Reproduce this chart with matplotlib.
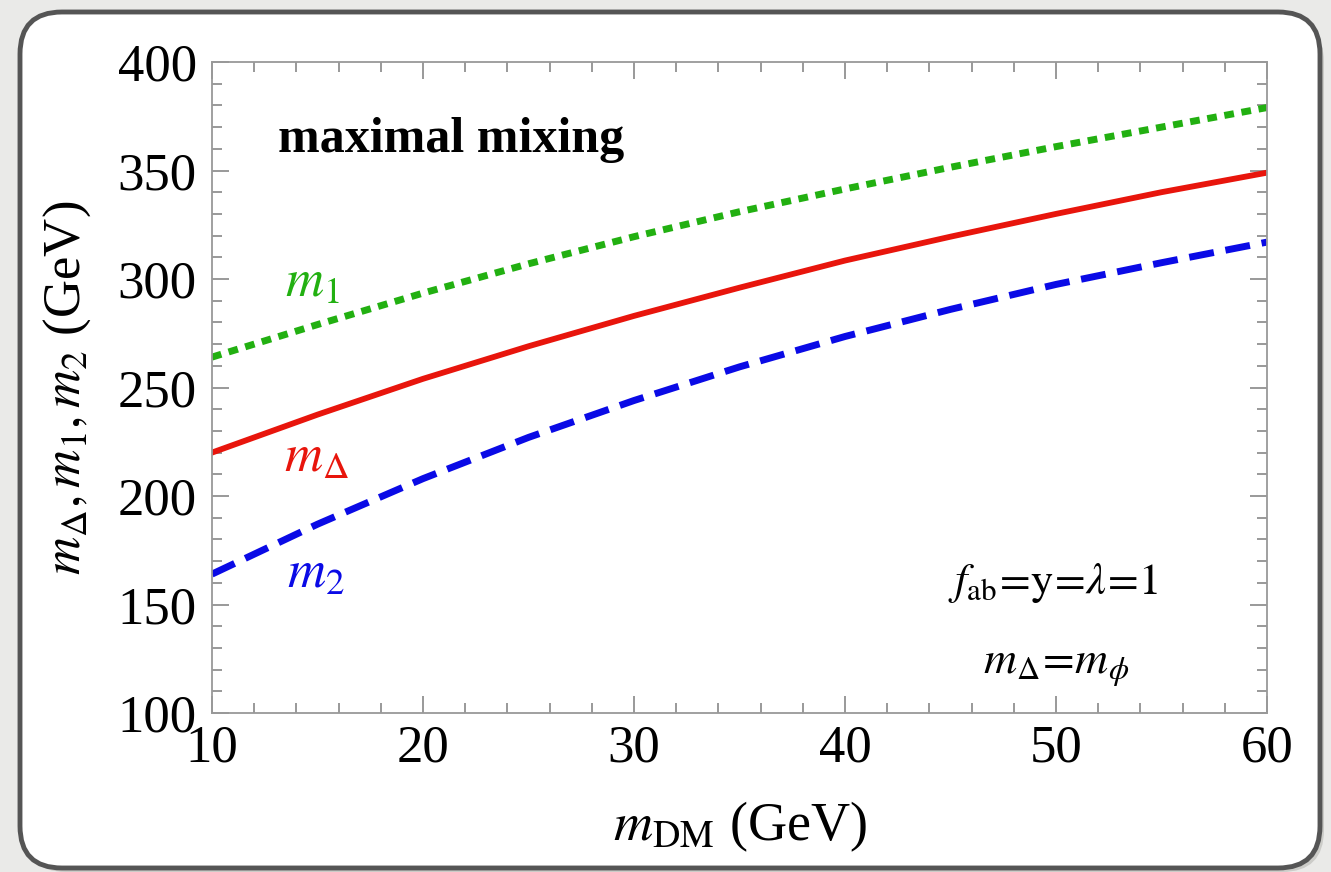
import numpy as np
import matplotlib
matplotlib.use('Agg')
import matplotlib.pyplot as plt
from matplotlib.patches import FancyBboxPatch
from matplotlib.ticker import MultipleLocator

# values (GeV)
m_dm = [10, 15, 20, 25, 30, 35, 40, 45, 50, 55, 60]
m_1 = [264, 279, 293.5, 307, 319.5, 331, 341.5, 351.5, 361, 370, 379]
m_delta = [220, 237.5, 254, 269, 283, 296, 308.5, 319.5, 330, 340, 349]
m_2 = [164, 187, 208, 227, 244, 259.5, 273.5, 286, 297.5, 307.5, 317]

xticks = [10, 20, 30, 40, 50, 60]
yticks = [100, 150, 200, 250, 300, 350, 400]

plt.rcParams['font.family'] = ['Liberation Serif', 'DejaVu Serif']
plt.rcParams['mathtext.fontset'] = 'stix'

W, H = 1331, 872
fig = plt.figure(figsize=(W / 100, H / 100), dpi=100)
fig.patch.set_facecolor('#eaeae8')

# card behind the plot, in pixel coords
bg = fig.add_axes([0, 0, 1, 1], zorder=0)
bg.set_xlim(0, W)
bg.set_ylim(0, H)
bg.axis('off')
shadow = FancyBboxPatch((24, 0), 1300, 852, boxstyle='round,pad=0,rounding_size=42',
                        fc='#b8b8b4', ec='none', alpha=0.6)
bg.add_patch(shadow)
card = FancyBboxPatch((20, 4), 1300, 856, boxstyle='round,pad=0,rounding_size=42',
                      fc='white', ec='#555555', lw=3.5)
bg.add_patch(card)

ax = fig.add_axes([212 / W, 1 - 713 / H, 1055 / W, 651 / H], zorder=1)
ax.patch.set_alpha(0)

ax.plot(m_dm, m_1, color='#22b011', lw=5, ls=(0, (1.4, 1.1)), dash_capstyle='butt')
ax.plot(m_dm, m_delta, color='#e8150c', lw=4.2)
ax.plot(m_dm, m_2, color='#0a0ae6', lw=5, ls=(0, (3.6, 1.7)), dash_capstyle='butt')

ax.set_xlim(10, 60)
ax.set_ylim(100, 400)
ax.set_xticks(xticks)
ax.set_yticks(yticks)
ax.xaxis.set_minor_locator(MultipleLocator(2))
ax.yaxis.set_minor_locator(MultipleLocator(10))
ax.tick_params(which='both', direction='in', top=True, right=True, color='#888888', width=1.2)
ax.tick_params(which='major', length=12, labelsize=38)
ax.tick_params(axis='x', which='major', pad=8)
ax.tick_params(axis='y', which='major', pad=11)
ax.tick_params(which='minor', length=7)
for s in ax.spines.values():
    s.set_color('#999999')
    s.set_linewidth(1.3)

ax.set_xlabel(r'$m_{\rm DM}$ (GeV)', fontsize=39, labelpad=20)
ax.set_ylabel(r'$m_\Delta, m_1, m_2$ (GeV)', fontsize=38, labelpad=18)

ax.text(0.063, 0.88, 'maximal mixing', transform=ax.transAxes, fontsize=36,
        fontweight='bold', ha='left', va='center')
ax.text(0.069, 0.66, r'$m_1$', transform=ax.transAxes, fontsize=38, color='#22b011',
        ha='left', va='center')
ax.text(0.068, 0.39, r'$m_\Delta$', transform=ax.transAxes, fontsize=38, color='#e8150c',
        ha='left', va='center')
ax.text(0.071, 0.213, r'$m_2$', transform=ax.transAxes, fontsize=38, color='#0a0ae6',
        ha='left', va='center')
ax.text(0.797, 0.20, r'$f_{\rm ab}\!=\!{\rm y}\!=\!\lambda\!=\!1$', transform=ax.transAxes,
        fontsize=32, ha='center', va='center')
ax.text(0.80, 0.069, r'$m_\Delta\!=\!m_\phi$', transform=ax.transAxes,
        fontsize=33, ha='center', va='center')

fig.savefig('out.png', dpi=100, facecolor=fig.get_facecolor())
